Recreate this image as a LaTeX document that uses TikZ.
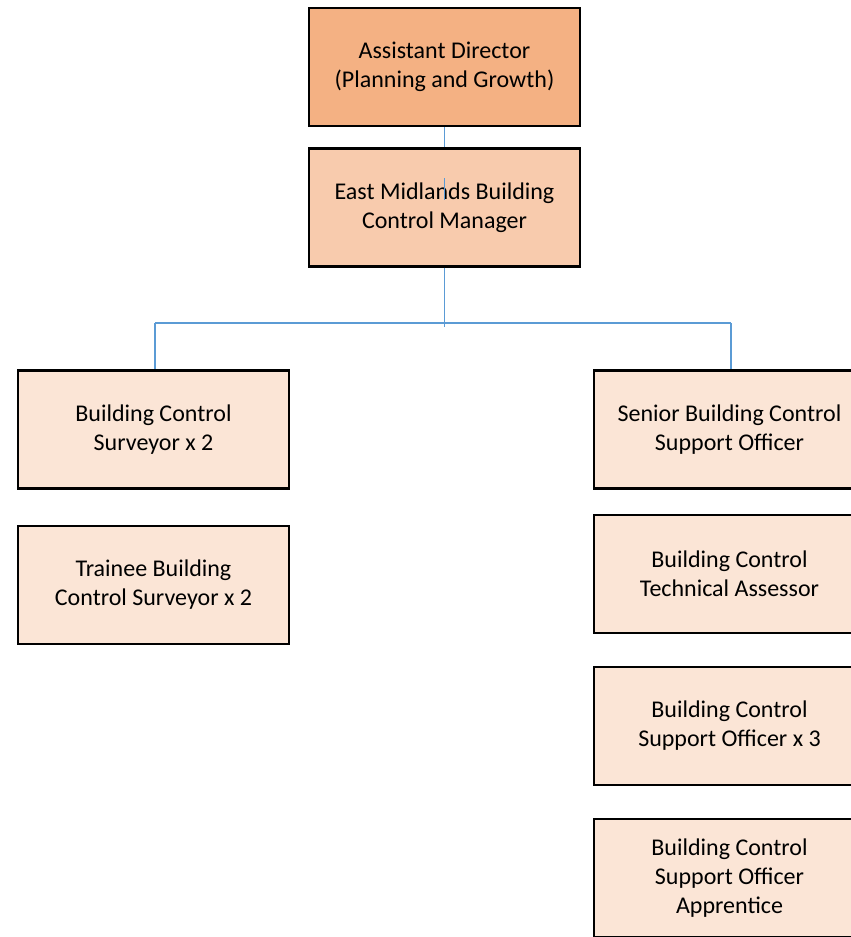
\documentclass[tikz,border=0pt]{standalone}
\usepackage{fontspec}
\setmainfont{Carlito}
\definecolor{topfill}{HTML}{F4B183}
\definecolor{midfill}{HTML}{F8CBAD}
\definecolor{lowfill}{HTML}{FBE5D6}
\definecolor{conn}{HTML}{5B9BD5}
\tikzset{
  box/.style={draw=black, line width=2.3pt, rectangle, minimum width=271pt, minimum height=118pt,
    align=center, font=\fontsize{24}{29}\selectfont, inner sep=0pt},
  link/.style={draw=conn, line width=1.2pt}
}
\begin{document}
\begin{tikzpicture}[x=1pt,y=-1pt]
\useasboundingbox (0,0) rectangle (851,937);
\clip (0,0) rectangle (851,937);
\node[box, fill=topfill] (ad) at (444.5,67) {Assistant Director\\(Planning and Growth)};
\node[box, fill=midfill] (mgr) at (444.5,207.5) {East Midlands Building\\Control Manager};
\node[box, fill=lowfill] (bcs) at (153.5,429.5) {Building Control\\Surveyor x 2};
\node[box, fill=lowfill] (tbcs) at (153.5,585) {Trainee Building\\Control Surveyor x 2};
\node[box, fill=lowfill] (sbc) at (729.5,429.5) {Senior Building Control\\Support Officer};
\node[box, fill=lowfill] (bcta) at (729.5,574) {Building Control\\Technical Assessor};
\node[box, fill=lowfill] (bcso) at (729.5,726) {Building Control\\Support Officer x 3};
\node[box, fill=lowfill] (bcsoa) at (729.5,878) {Building Control\\Support Officer\\Apprentice};
\coordinate (jn) at (444.5,327);
\coordinate (hl) at (155,323);
\coordinate (hr) at (731,323);
\coordinate (ta) at (444.5,178);
\coordinate (tb) at (444.5,200);
\draw[link] (ad.south) -- (mgr.north);
\draw[link] (ta) -- (tb);
\draw[link] (mgr.south) -- (jn);
\draw[link] (hl) -- (hr);
\draw[link] (hl) -- (hl |- bcs.north);
\draw[link] (hr) -- (hr |- sbc.north);
\end{tikzpicture}
\end{document}
